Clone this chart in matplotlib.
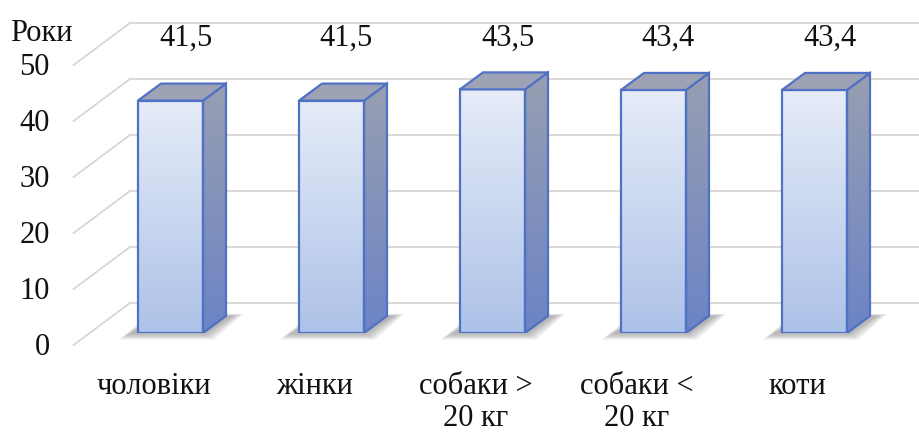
import numpy as np
import matplotlib.pyplot as plt
from matplotlib.patches import Polygon, Rectangle
from matplotlib.colors import LinearSegmentedColormap

plt.rcParams['font.family'] = ['Liberation Serif', 'DejaVu Serif']

categories = ['чоловіки', 'жінки', 'собаки >\n20 кг', 'собаки <\n20 кг', 'коти']
values = [41.5, 41.5, 43.5, 43.4, 43.4]
value_labels = ['41,5', '41,5', '43,5', '43,4', '43,4']
yticks = [0, 10, 20, 30, 40, 50]
ylabel = 'Роки'

# pixel -> data scale (bar front plane)
PX_X = 161.0
PX_Y = 5.6
FS = 22

front = (-16.4 / PX_X, -12 / PX_Y)   # front edge of floor
wall = (40 / PX_X, 30 / PX_Y)        # back wall
depth = (23 / PX_X, 17 / PX_Y)       # bar depth
width = 65 / PX_X

grid_c = '#dcd5d1'
edge_c = '#4f72c4'
front_cmap = LinearSegmentedColormap.from_list('f', ['#e6ecf8', '#adc2e8'])
side_cmap = LinearSegmentedColormap.from_list('s', ['#989fb1', '#6c84c6'])
grad = np.linspace(0, 1, 200).reshape(-1, 1)

fig = plt.figure(figsize=(9.2, 4.32), dpi=100)
ax = fig.add_axes([90 / 920, 99 / 432, 805 / 920, 280 / 432])
ax.set_xlim(-0.5, 4.5)
ax.set_ylim(0, 50)
ax.axis('off')

# back wall grid + floor diagonals
x0 = -0.5
for t in yticks:
    ax.plot([x0 + front[0], x0 + wall[0]], [t + front[1], t + wall[1]],
            color=grid_c, lw=1.3, clip_on=False, zorder=1)
    ax.plot([x0 + wall[0], 5.2], [t + wall[1], t + wall[1]],
            color=grid_c, lw=1.3, clip_on=False, zorder=1)
    ax.text(x0 + front[0] - 24 / PX_X, t + front[1] - 0.4, str(t),
            ha='right', va='center', fontsize=FS, color='#111111',
            clip_on=False)

ax.text(-0.8, 53.4, ylabel, ha='center', va='center', fontsize=FS,
        color='#111111', clip_on=False)

for i, v in enumerate(values):
    xl = i - width / 2
    xr = i + width / 2
    # soft shadow on the floor
    for k in range(5):
        e = (5 - k) * 2.2
        ex, ey = e / PX_X, e / PX_Y * 0.6
        sh = Polygon([(xl - ex - 8 / PX_X, -ey), (xr + ex, -ey),
                      (xr + depth[0] + ex + 6 / PX_X, depth[1] + ey * 0.3),
                      (xl + depth[0] - ex, depth[1] + ey * 0.3)],
                     closed=True, facecolor='#444444', edgecolor='none',
                     alpha=0.09, zorder=2, clip_on=False)
        ax.add_patch(sh)
    # front face
    ax.imshow(grad, cmap=front_cmap, extent=[xl, xr, 0, v], origin='upper',
              aspect='auto', zorder=3, interpolation='bilinear')
    ax.add_patch(Rectangle((xl, 0), width, v, facecolor='none',
                           edgecolor=edge_c, lw=1.6, zorder=5))
    # side face
    side = Polygon([(xr, 0), (xr + depth[0], depth[1]),
                    (xr + depth[0], v + depth[1]), (xr, v)], closed=True,
                   facecolor='none', edgecolor=edge_c, lw=1.6, zorder=5)
    ax.add_patch(side)
    im = ax.imshow(grad, cmap=side_cmap,
                   extent=[xr, xr + depth[0], 0, v + depth[1]],
                   origin='upper', aspect='auto', zorder=3,
                   interpolation='bilinear')
    im.set_clip_path(side)
    # top face
    ax.add_patch(Polygon([(xl, v), (xr, v), (xr + depth[0], v + depth[1]),
                          (xl + depth[0], v + depth[1])], closed=True,
                         facecolor='#9da3b5', edgecolor=edge_c, lw=1.6,
                         zorder=5))
    ax.text(i + 15 / PX_X, 52.7, value_labels[i], ha='center', va='center',
            fontsize=FS, color='#111111', clip_on=False)
    ax.text(i - 17 / PX_X, -7.0, categories[i], ha='center', va='top',
            fontsize=FS, color='#111111', linespacing=1.15, clip_on=False,
            multialignment='center')

ax.set_xlim(-0.5, 4.5)
ax.set_ylim(0, 50)
fig.savefig('out.png', dpi=100)
